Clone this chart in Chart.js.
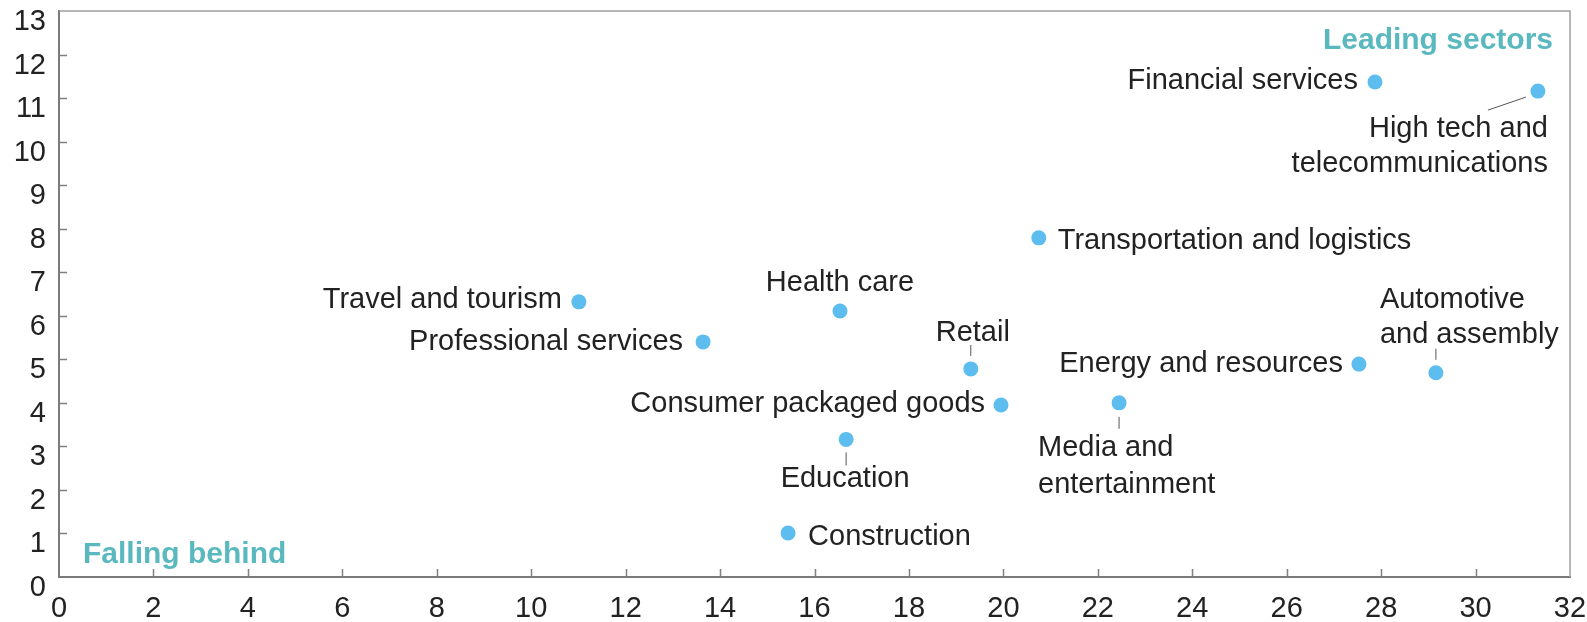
<!doctype html>
<html lang="en">
<head>
  <meta charset="utf-8">
  <title>Sectors</title>
  <script src="https://cdn.jsdelivr.net/npm/chart.js@4.4.1/dist/chart.umd.min.js"></script>
  <style>
    html, body { margin: 0; padding: 0; background: #fff; }
    .wrap { width: 1587px; height: 622px; position: relative; }
  </style>
</head>
<body>
  <div class="wrap"><canvas id="myChart"></canvas></div>

  <script>
    // values
    const sectors = [
      'Financial services',
      'High tech and\ntelecommunications',
      'Transportation and logistics',
      'Travel and tourism',
      'Health care',
      'Professional services',
      'Retail',
      'Consumer packaged goods',
      'Education',
      'Construction',
      'Energy and resources',
      'Media and\nentertainment',
      'Automotive\nand assembly'
    ];
    const xValues = [27.87, 31.32, 20.75, 11.01, 16.54, 13.64, 19.31, 19.95, 16.67, 15.44, 27.53, 22.45, 29.16];
    const yValues = [11.37, 11.16, 7.79, 6.32, 6.11, 5.40, 4.78, 3.95, 3.16, 1.01, 4.89, 4.00, 4.69];
    const xTicks = [0, 2, 4, 6, 8, 10, 12, 14, 16, 18, 20, 22, 24, 26, 28, 30, 32];
    const yTicks = [0, 1, 2, 3, 4, 5, 6, 7, 8, 9, 10, 11, 12, 13];
    const cornerNotes = ['Leading sectors', 'Falling behind'];

    // where each label sits next to its dot (pixels)
    const labelLayout = [
      { align: 'right',  dx: -17, dy: [7] },
      { align: 'right',  dx: 10,  dy: [46, 81], leader: [-12, 6, -50, 19] },
      { align: 'left',   dx: 19,  dy: [11] },
      { align: 'right',  dx: -17, dy: [6] },
      { align: 'center', dx: 0,   dy: [-20] },
      { align: 'right',  dx: -20, dy: [8] },
      { align: 'center', dx: 2,   dy: [-28], leader: [0, -13, 0, -24] },
      { align: 'right',  dx: -16, dy: [7] },
      { align: 'center', dx: -1,  dy: [48], leader: [0, 13, 0, 26] },
      { align: 'left',   dx: 20,  dy: [12] },
      { align: 'right',  dx: -16, dy: [8] },
      { align: 'left',   dx: -81, dy: [53, 90], leader: [0, 14, 0, 26] },
      { align: 'left',   dx: -56, dy: [-65, -30], leader: [0, -13, 0, -24] }
    ];

    const FONT = '"Liberation Sans", Arial, Helvetica, sans-serif';

    const sectorLabels = {
      id: 'sectorLabels',
      afterDatasetsDraw(chart) {
        const { ctx, chartArea, scales: { x, y } } = chart;
        ctx.save();

        // light frame on top and right
        ctx.strokeStyle = '#a0a0a0';
        ctx.lineWidth = 1.5;
        ctx.beginPath();
        ctx.moveTo(chartArea.left, chartArea.top);
        ctx.lineTo(chartArea.right, chartArea.top);
        ctx.lineTo(chartArea.right, chartArea.bottom);
        ctx.stroke();

        // inward tick marks
        ctx.strokeStyle = '#808080';
        ctx.lineWidth = 1.5;
        ctx.beginPath();
        yTicks.slice(1, -1).forEach(v => {
          const py = Math.round(y.getPixelForValue(v)) + 0.5;
          ctx.moveTo(chartArea.left, py);
          ctx.lineTo(chartArea.left + 8, py);
        });
        xTicks.slice(1, -1).forEach(v => {
          const px = Math.round(x.getPixelForValue(v)) + 0.5;
          ctx.moveTo(px, chartArea.bottom);
          ctx.lineTo(px, chartArea.bottom - 8);
        });
        ctx.stroke();

        // sector names
        ctx.font = '29px ' + FONT;
        ctx.fillStyle = '#222';
        ctx.textBaseline = 'alphabetic';
        sectors.forEach((name, i) => {
          const px = x.getPixelForValue(xValues[i]);
          const py = y.getPixelForValue(yValues[i]);
          const lay = labelLayout[i];
          ctx.textAlign = lay.align;
          name.split('\n').forEach((line, k) => {
            ctx.fillText(line, px + lay.dx, py + lay.dy[k]);
          });
          if (lay.leader) {
            const l = lay.leader;
            ctx.strokeStyle = '#555';
            ctx.lineWidth = 1;
            ctx.beginPath();
            ctx.moveTo(px + l[0], py + l[1]);
            ctx.lineTo(px + l[2], py + l[3]);
            ctx.stroke();
          }
        });

        // corner notes
        ctx.font = 'bold 30px ' + FONT;
        ctx.fillStyle = '#5ab9bf';
        ctx.textAlign = 'right';
        ctx.fillText(cornerNotes[0], chartArea.right - 17, chartArea.top + 38);
        ctx.textAlign = 'left';
        ctx.fillText(cornerNotes[1], chartArea.left + 24, chartArea.bottom - 14);

        ctx.restore();
      }
    };

    const ctx = document.getElementById('myChart').getContext('2d');
    const myChart = new Chart(ctx, {
      type: 'scatter',
      data: {
        datasets: [{
          label: 'Sectors',
          data: xValues.map((v, i) => ({ x: v, y: yValues[i] })),
          backgroundColor: '#5dbdee',
          borderWidth: 0,
          pointRadius: 7.5,
          pointHoverRadius: 7.5
        }]
      },
      options: {
        responsive: true,
        maintainAspectRatio: false,
        animation: false,
        layout: { padding: { top: 11, right: 17, left: 0, bottom: 0 } },
        plugins: { legend: { display: false }, tooltip: { enabled: false } },
        scales: {
          x: {
            type: 'linear',
            min: 0,
            max: 32,
            afterBuildTicks: s => { s.ticks = xTicks.map(v => ({ value: v })); },
            afterFit: s => { s.height = 45; s.paddingLeft = 0; s.paddingRight = 0; },
            grid: { display: false, drawTicks: false },
            border: { display: true, color: '#7a7a7a', width: 2 },
            ticks: {
              color: '#222',
              padding: 15,
              maxRotation: 0,
              autoSkip: false,
              font: { family: FONT, size: 29 }
            }
          },
          y: {
            type: 'linear',
            min: 0,
            max: 13,
            afterBuildTicks: s => { s.ticks = yTicks.map(v => ({ value: v })); },
            afterFit: s => { s.width = 59; s.paddingTop = 0; s.paddingBottom = 0; },
            grid: { display: false, drawTicks: false },
            border: { display: true, color: '#7a7a7a', width: 2 },
            ticks: {
              color: '#222',
              padding: 13,
              labelOffset: 11,
              autoSkip: false,
              font: { family: FONT, size: 29 }
            }
          }
        }
      },
      plugins: [sectorLabels]
    });
  </script>
</body>
</html>
